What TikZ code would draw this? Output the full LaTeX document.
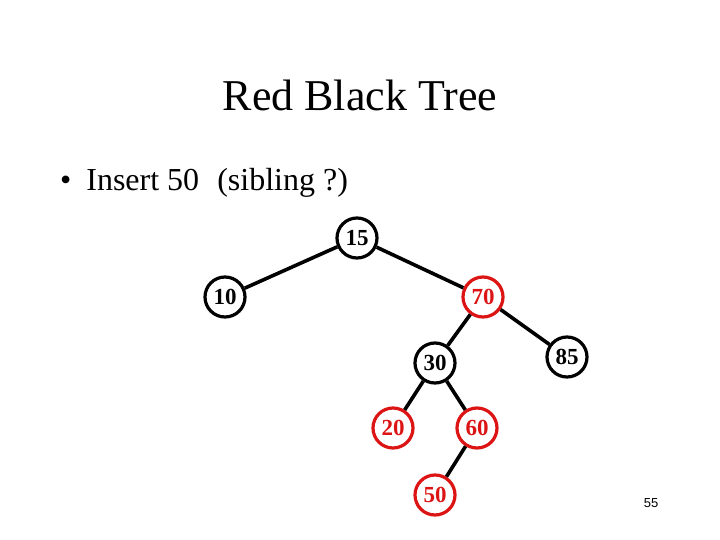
\documentclass[tikz,border=0pt]{standalone}
\usepackage{fontspec}
\setmainfont{Liberation Serif}
\newfontfamily\pagenofont{Liberation Sans}
\definecolor{nodered}{RGB}{220,20,20}
\begin{document}
\begin{tikzpicture}[x=1pt,y=-1pt,
    blacknode/.style={circle,draw=black,line width=3.2pt,minimum size=40pt,inner sep=0pt,
      text=black,font=\fontsize{23}{23}\selectfont\bfseries},
    rednode/.style={blacknode,draw=nodered,text=nodered},
    treeedge/.style={line width=3.6pt,black}]
      \useasboundingbox (0,0) rectangle (720,540);
      \node [anchor=base,font=\fontsize{44}{44}\selectfont] (title) at (360,111) {Red Black Tree};
      \node [anchor=base west,inner sep=0pt,font=\fontsize{32}{32}\selectfont] (point) at (60,191)
        {\textbullet\hspace{15pt}Insert 50\hspace{18pt}(sibling ?)};
      \node [blacknode] (n15) at (357,238) {15};
      \node [blacknode] (n10) at (225,297) {10};
      \node [rednode] (n70) at (483,297) {70};
      \node [blacknode] (n30) at (435,363) {30};
      \node [blacknode] (n85) at (567,357) {85};
      \node [rednode] (n20) at (393,428) {20};
      \node [rednode] (n60) at (477,428) {60};
      \node [rednode] (n50) at (435,495) {50};
      \node [font=\pagenofont\fontsize{13}{13}\selectfont] (pageno) at (651,503) {55};
      \draw [treeedge] (n15) -- (n10);
      \draw [treeedge] (n15) -- (n70);
      \draw [treeedge] (n70) -- (n30);
      \draw [treeedge] (n70) -- (n85);
      \draw [treeedge] (n30) -- (n20);
      \draw [treeedge] (n30) -- (n60);
      \draw [treeedge] (n60) -- (n50);
    \end{tikzpicture}
\end{document}
